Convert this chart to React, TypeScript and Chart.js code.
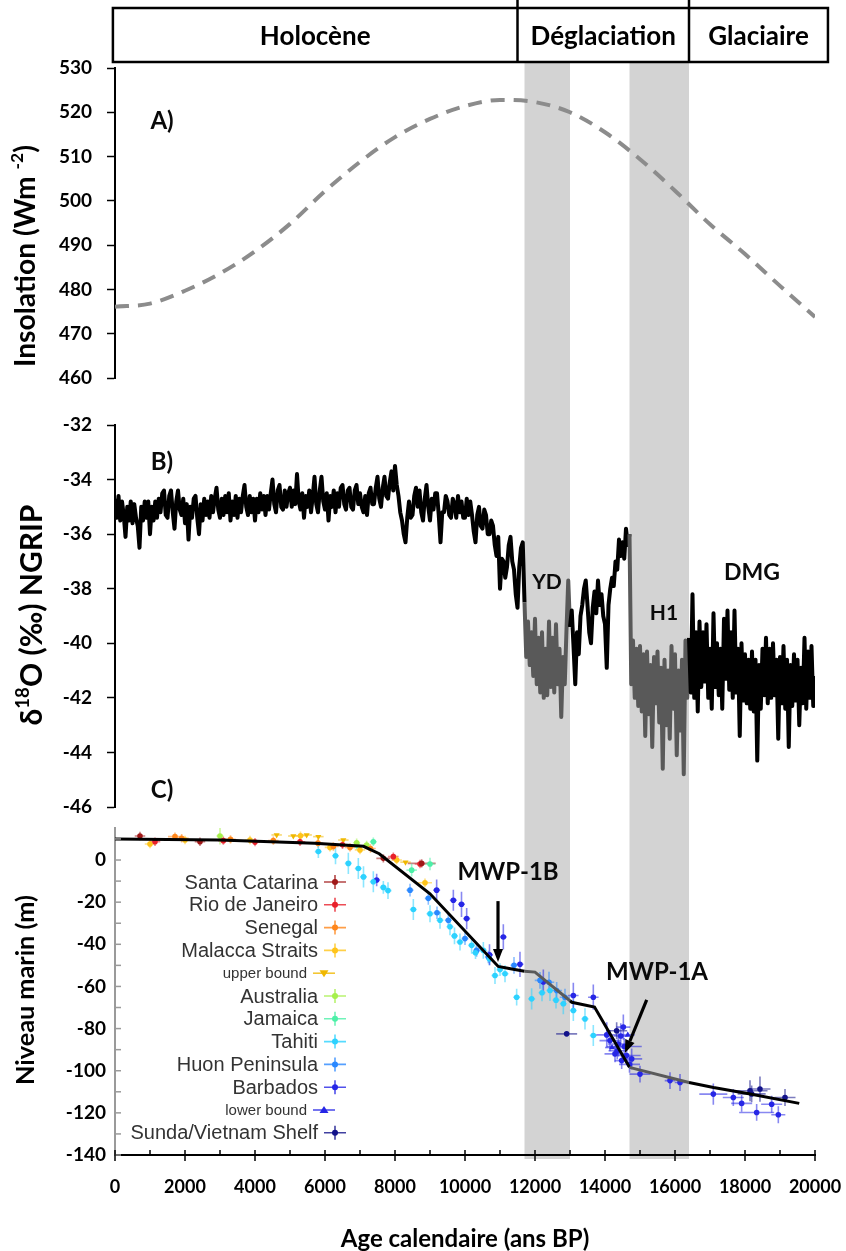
import { useEffect, useRef } from "react";
import { Chart, registerables } from "chart.js";
Chart.register(...registerables);

const FONT = "Lato, 'Open Sans', 'DejaVu Sans', sans-serif";
const LEGEND_FONT = "'Liberation Sans', Arial, sans-serif";

// ---------------- DATA ----------------
const ageMin = 0;
const ageMax = 20000;
const coldBands: [number, number][] = [[11700, 13000], [14700, 16400]];
const periodEdges = [-60, 11500, 16400, 20370];
const periodNames = ["Holocène", "Déglaciation", "Glaciaire"];

// A) insolation
const insolationAge = [0, 1000, 2000, 3000, 4000, 5000, 6000, 7000, 8000, 9000, 10000, 11000, 12000, 13000, 14000, 15000, 16000, 17000, 18000, 19000, 20000];
const insolationWm2 = [476.1, 476.8, 479.7, 483.6, 488.6, 494.8, 502.2, 508.8, 514.4, 518.5, 521.4, 522.8, 522.3, 520.0, 515.5, 509.4, 502.3, 494.7, 488.0, 480.8, 473.8];
const insolationTicks = { min: 460, max: 530, step: 10 };

// B) NGRIP d18O, one value every 50 years from each segment's start age
const ngripStep = 50;
const ngripHoloceneStart = 0;
const ngripHoloceneD18O = [
  -34.7, -35.4, -34.6, -35.5, -34.8, -35.3, -36.1, -35.0, -35.5, -34.8, -35.6, -34.9, -35.4, -35.7, -36.5, -35.0, -35.5, -34.8, -35.4, -34.8,
  -36.0, -35.0, -35.5, -34.8, -35.4, -34.7, -35.2, -34.5, -34.4, -35.3, -35.4, -34.6, -34.4, -35.2, -35.8, -34.8, -34.4, -35.1, -35.3, -34.7,
  -35.6, -34.9, -36.2, -35.0, -35.4, -34.7, -34.6, -35.4, -36.0, -34.9, -35.5, -34.7, -35.3, -34.8, -35.4, -34.6, -35.2, -34.7, -34.3, -35.1,
  -35.4, -34.7, -35.3, -34.6, -35.2, -34.5, -35.5, -34.8, -35.3, -34.6, -35.4, -34.7, -35.2, -34.6, -34.2, -35.0, -35.3, -34.6, -35.2, -34.7,
  -35.5, -34.7, -35.2, -34.5, -35.1, -34.6, -35.3, -34.6, -35.1, -34.5, -34.0, -34.9, -35.2, -34.4, -34.2, -35.0, -35.1, -34.4, -35.0, -34.5,
  -34.3, -35.0, -34.4, -34.9, -33.8, -34.8, -35.1, -34.5, -35.4, -34.6, -35.0, -34.4, -35.2, -34.6, -33.9, -34.9, -35.2, -34.4, -33.9, -34.8,
  -35.1, -34.5, -35.5, -34.6, -35.0, -34.4, -35.2, -34.5, -35.0, -34.3, -34.2, -34.9, -35.1, -34.4, -34.3, -35.0, -35.1, -34.4, -34.2, -34.9,
  -34.5, -35.0, -35.2, -34.6, -35.3, -34.5, -34.3, -34.9, -34.9, -34.3, -33.9, -34.7, -35.0, -34.3, -33.9, -34.6, -34.7, -34.1, -33.7, -34.4,
  -33.5, -34.2, -34.6, -35.2, -35.5, -36.0, -36.3, -35.4, -34.8, -35.4, -35.3, -34.6, -34.3, -35.0, -34.4, -35.2, -35.5, -34.7, -34.2, -35.0,
  -35.5, -34.7, -35.1, -34.5, -34.5, -35.3, -36.3, -35.2, -35.2, -34.6, -34.8, -35.3, -35.4, -34.7, -34.9, -35.4, -34.6, -35.2, -34.8, -35.4,
  -35.4, -34.7, -35.3, -34.8, -35.3, -35.9, -36.3, -35.3, -35.0, -35.7, -35.8, -35.1, -35.3, -36.0, -36.0, -35.5, -35.7, -36.4, -36.8, -36.1,
  -38.0, -36.9, -37.0, -37.6, -37.2, -36.4, -36.1, -37.0, -37.3, -38.2, -38.7, -37.2, -36.5, -36.3,
];
const ngripDeglaciationStart = 11700;
const ngripDeglaciationD18O = [
  -38.5, -40.5, -39.2, -40.8, -39.6, -41.2,
  -39.1, -41.5, -39.8, -41.8, -39.6, -42.0, -40.2, -41.9, -39.2, -41.6,
  -39.8, -41.8, -39.3, -41.5, -40.2, -42.7, -40.5, -41.5, -39.5, -37.7,
  -39.4, -38.8, -40.1, -41.5, -39.6, -40.4, -39.0, -38.6, -38.0, -37.7,
  -38.6, -39.6, -40.0, -38.7, -38.1, -38.9, -37.7, -38.6, -38.2, -39.0,
  -39.3, -40.9, -38.6, -38.0, -37.6, -37.9, -37.0, -37.3, -36.2, -36.8,
  -36.3, -36.9, -35.8, -36.4, -36.0,
];
const ngripH1Start = 14750;
const ngripH1D18O = [
  -41.5, -39.9, -42.0, -40.2, -42.3,
  -40.1, -42.5, -40.4, -43.4, -40.3, -42.6, -40.8, -43.8, -40.5, -42.2,
  -40.3, -42.9, -40.9, -44.6, -40.6, -43.0, -41.0, -43.5, -40.1, -42.4,
  -40.4, -44.1, -41.0, -43.2, -40.6, -44.8, -39.9, -42.0,
];
const ngripGlacialStart = 16400;
const ngripGlacialD18O = [
  -39.8, -41.8, -38.2, -42.0, -39.6, -42.5, -39.2, -41.6, -39.6, -41.4, -39.3, -42.0,
  -40.2, -42.4, -38.9, -41.6, -40.0, -41.9, -40.2, -42.4, -39.1, -41.3,
  -38.8, -41.7, -39.6, -42.0, -38.8, -41.8, -40.2, -43.4, -40.0, -42.1,
  -40.4, -42.2, -40.6, -42.4, -40.3, -42.5, -40.6, -44.3, -40.8, -42.4,
  -40.2, -41.9, -39.8, -42.2, -40.2, -42.0, -40.0, -41.9, -40.6, -43.5,
  -40.5, -42.2, -40.1, -42.4, -40.6, -43.8, -40.8, -42.3, -40.4, -42.1,
  -40.6, -43.0, -40.9, -42.2, -39.8, -42.4, -40.3, -42.0, -40.1, -42.3,
  -41.2, -42.5,
];
const ngripTicks = { min: -46, max: -32, step: 2 };

// C) sea level: [age, level, ageErr, levelErr]
type Obs = [number, number, number, number];
const seaSantaCatarina: Obs[] = [[714, 11.4, 150, 2], [2428, 8.7, 150, 2], [7667, 0.8, 200, 2], [8762, -1.6, 400, 2]];
const seaRioDeJaneiro: Obs[] = [[1143, 8.7, 150, 2], [3095, 9.2, 150, 2], [4000, 8.5, 150, 2], [5286, 8.7, 150, 2], [6500, 7.2, 150, 2], [7952, 1.6, 150, 2], [8714, -1.9, 150, 2]];
const seaSenegal: Obs[] = [[1714, 11.1, 200, 2], [1905, 10.3, 200, 2], [3300, 9.8, 150, 2], [4524, 9.2, 150, 2], [5800, 8.0, 150, 2], [6238, 6.4, 150, 2], [6714, 6.0, 150, 2], [7300, 5.5, 150, 2]];
const seaMalacca: Obs[] = [[1000, 7.6, 150, 2], [2000, 9.5, 150, 2], [3857, 9.5, 150, 2], [5300, 11.5, 150, 2], [6143, 6.0, 150, 2], [7000, 4.8, 150, 2], [8048, 0, 150, 2], [8857, -10.8, 200, 2]];
const seaUpperBound: Obs[] = [[4619, 11.9, 150, 0], [5095, 11.4, 150, 0], [5476, 11.9, 150, 0], [5810, 11.1, 150, 0], [6524, 9.5, 150, 0], [8300, -1, 150, 0]];
const seaAustralia: Obs[] = [[3000, 11.4, 100, 4], [6905, 8.2, 100, 2], [7190, 7.1, 100, 2]];
const seaJamaica: Obs[] = [[6905, 7.1, 100, 2], [7381, 8.7, 100, 2], [8476, -4.8, 150, 3], [9000, -1.9, 150, 3]];
const seaTahiti: Obs[] = [
  [5810, 4.0, 100, 3], [6300, 2.0, 100, 4], [6667, -1.6, 100, 5], [6952, -4.0, 100, 5], [7100, -8, 100, 5], [7381, -10.3, 100, 5],
  [7667, -13, 100, 3], [7800, -14.5, 100, 4], [8524, -23.5, 100, 5], [9000, -25.5, 100, 4], [9286, -28.6, 100, 4], [9571, -31.7, 100, 4],
  [9700, -36, 100, 4], [9857, -38.9, 100, 4], [10190, -40.5, 100, 4], [10300, -44, 100, 3], [10524, -42.9, 100, 4], [10700, -47, 100, 3],
  [10857, -54.8, 100, 4], [11000, -52, 100, 3], [11143, -54, 100, 4], [11476, -65.1, 100, 4], [11904, -65.9, 100, 5], [12200, -63, 100, 4],
  [12428, -61.9, 100, 5], [12600, -66.5, 100, 4], [12809, -68.2, 100, 5], [13095, -71.4, 100, 5], [13428, -75.4, 100, 5], [13666, -83.3, 100, 5],
];
const seaHuon: Obs[] = [
  [8429, -14.3, 100, 3], [8952, -18.2, 100, 3], [9200, -25, 100, 3], [9524, -28.6, 100, 3], [10000, -37.3, 100, 3], [10333, -42.9, 100, 3],
  [10667, -46, 100, 3], [11400, -50, 100, 4], [12143, -57.1, 150, 4], [12400, -58, 150, 5], [12619, -61.9, 150, 4], [12857, -65.1, 150, 4],
];
const seaBarbados: Obs[] = [
  [7476, -9.5, 100, 3], [9190, -14.3, 100, 5], [9667, -19.1, 100, 5], [9900, -21, 100, 6], [10048, -27.8, 100, 5], [10700, -45, 100, 5],
  [11095, -36.5, 100, 6], [11571, -49.5, 100, 6], [12238, -57.9, 150, 6], [13095, -64.3, 150, 6], [13666, -65.1, 150, 6], [14050, -83, 300, 6],
  [14143, -85.7, 300, 5], [14381, -87.3, 300, 6], [14350, -90.5, 250, 4], [14450, -83.5, 200, 6], [14524, -79.3, 200, 6], [14550, -88.5, 500, 4],
  [14286, -92, 300, 4], [14619, -92.8, 400, 4], [14476, -95.2, 200, 4], [14700, -97, 300, 4], [14762, -94.4, 300, 5], [15000, -101.6, 300, 4],
  [15857, -104.7, 150, 4], [16143, -105.6, 150, 4], [17095, -111.1, 400, 5], [17666, -112.7, 300, 4], [17904, -115.5, 300, 4], [18333, -119.8, 500, 4],
  [18762, -115.9, 300, 4], [18952, -120.9, 200, 4],
];
const seaLowerBound: Obs[] = [[14200, -89, 200, 0], [14650, -83, 200, 0]];
const seaSunda: Obs[] = [[12904, -82.5, 300, 1], [14333, -81.0, 300, 4], [18143, -109.5, 500, 5], [18428, -108.7, 300, 6], [19143, -112.7, 300, 4], [18190, -111, 400, 4]];

const seaFitAge = [0, 3000, 5700, 7100, 7550, 9000, 10950, 11300, 11700, 12000, 13000, 13050, 13700, 14700, 16400, 17100, 18150, 19550];
const seaFitLevel = [10, 9.5, 8, 6.5, 3, -16, -50.5, -51.6, -52.8, -53.2, -66.8, -67.5, -69.8, -98.4, -105.6, -108, -111, -115.5];
const seaTicks = { min: -140, max: 15.2, step: 10 };

const seaSeries = [
  { label: "Santa Catarina", color: "#a01818", marker: "cross", data: seaSantaCatarina },
  { label: "Rio de Janeiro", color: "#e8202a", marker: "cross", data: seaRioDeJaneiro },
  { label: "Senegal", color: "#ff861a", marker: "cross", data: seaSenegal },
  { label: "Malacca Straits", color: "#ffc41a", marker: "cross", data: seaMalacca },
  { label: "upper bound", color: "#f0b800", marker: "down", data: seaUpperBound },
  { label: "Australia", color: "#a6f04c", marker: "cross", data: seaAustralia },
  { label: "Jamaica", color: "#4cf0a8", marker: "cross", data: seaJamaica },
  { label: "Tahiti", color: "#2cd2ff", marker: "cross", data: seaTahiti },
  { label: "Huon Peninsula", color: "#2a88ff", marker: "cross", data: seaHuon },
  { label: "Barbados", color: "#2626e6", marker: "cross", data: seaBarbados },
  { label: "lower bound", color: "#2626e6", marker: "up", data: seaLowerBound },
  { label: "Sunda/Vietnam Shelf", color: "#12128a", marker: "cross", data: seaSunda },
];

// ---------------- helpers ----------------
const inBand = (x: number) => coldBands.some(([a, b]) => x >= a && x <= b);
const BAND_COLOR = "#d3d3d3";

function hexA(hex: string, a: number) {
  const n = parseInt(hex.slice(1), 16);
  return `rgba(${(n >> 16) & 255},${(n >> 8) & 255},${n & 255},${a})`;
}

const zeroPad = (s: any) => {
  s.paddingLeft = 0;
  s.paddingRight = 0;
  s.paddingTop = 0;
  s.paddingBottom = 0;
};

function bandPlugin(top: (c: any) => number, bottom: (c: any) => number) {
  return {
    id: "bands",
    beforeDraw(chart: any) {
      const { ctx } = chart;
      const xs = chart.scales.x;
      ctx.save();
      ctx.fillStyle = BAND_COLOR;
      coldBands.forEach(([a, b]) => {
        const x0 = xs.getPixelForValue(a);
        const x1 = xs.getPixelForValue(b);
        ctx.fillRect(x0, top(chart), x1 - x0, bottom(chart) - top(chart));
      });
      ctx.restore();
    },
  };
}

type Part = { t: string; sup?: boolean };
function titlePlugin(parts: Part[], cx: number, cy: number, len: number) {
  return {
    id: "ytitle",
    afterDraw(chart: any) {
      const ctx = chart.ctx;
      ctx.save();
      const measure = (size: number) =>
        parts.reduce((s, p) => {
          ctx.font = `bold ${p.sup ? size * 0.62 : size}px ${FONT}`;
          return s + ctx.measureText(p.t).width;
        }, 0);
      const size = Math.min(30, (100 * len) / measure(100));
      const total = measure(size);
      ctx.translate(cx, cy);
      ctx.rotate(-Math.PI / 2);
      ctx.fillStyle = "#000";
      ctx.textBaseline = "middle";
      ctx.textAlign = "left";
      let x = -total / 2;
      parts.forEach((p) => {
        ctx.font = `bold ${p.sup ? size * 0.62 : size}px ${FONT}`;
        ctx.fillText(p.t, x, p.sup ? -size * 0.3 : 0);
        x += ctx.measureText(p.t).width;
      });
      ctx.restore();
    },
  };
}

type Note = { text: string; age: number; value: number; size: number };
function notesPlugin(notes: Note[]) {
  return {
    id: "notes",
    afterDraw(chart: any) {
      const { ctx } = chart;
      const xs = chart.scales.x;
      const ys = chart.scales.y;
      ctx.save();
      ctx.fillStyle = "#0a0a0a";
      ctx.textAlign = "center";
      ctx.textBaseline = "middle";
      notes.forEach((n) => {
        ctx.font = `bold ${n.size}px ${FONT}`;
        ctx.fillText(n.text, xs.getPixelForValue(n.age), ys.getPixelForValue(n.value));
      });
      ctx.restore();
    },
  };
}

const headerPlugin = {
  id: "header",
  afterDraw(chart: any) {
    const { ctx } = chart;
    const xs = chart.scales.x;
    const top = 8;
    const bottom = 62;
    const xsPix = periodEdges.map((v) => xs.getPixelForValue(v));
    ctx.save();
    ctx.fillStyle = "#fff";
    ctx.fillRect(xsPix[0], top, xsPix[3] - xsPix[0], bottom - top);
    ctx.strokeStyle = "#000";
    ctx.lineWidth = 2.5;
    ctx.strokeRect(xsPix[0], top, xsPix[3] - xsPix[0], bottom - top);
    [xsPix[1], xsPix[2]].forEach((x) => {
      ctx.beginPath();
      ctx.moveTo(x, 0);
      ctx.lineTo(x, bottom);
      ctx.stroke();
    });
    ctx.fillStyle = "#000";
    ctx.font = `bold 26px ${FONT}`;
    ctx.textAlign = "center";
    ctx.textBaseline = "middle";
    periodNames.forEach((name, i) => {
      ctx.fillText(name, (xsPix[i] + xsPix[i + 1]) / 2, 37);
    });
    ctx.restore();
  },
};

const yTickFont = { family: FONT, size: 19, weight: "bold" as const, lineHeight: 1 };
const xTickFont = { family: FONT, size: 18, weight: "bold" as const, lineHeight: 1 };

function yAxis(t: { min: number; max: number; step: number }) {
  return {
    min: t.min,
    max: t.max,
    ticks: { stepSize: t.step, padding: 15, color: "#000", font: yTickFont },
    grid: { drawOnChartArea: false, tickLength: 8, tickColor: "#000", tickWidth: 1.5 },
    border: { color: "#000", width: 2 },
    afterFit: (s: any) => {
      s.width = 115;
      zeroPad(s);
    },
  };
}

const hiddenX = { type: "linear", min: ageMin, max: ageMax, display: false, afterFit: zeroPad };

const baseOptions = {
  animation: false as const,
  responsive: false,
  events: [] as any[],
  plugins: { legend: { display: false }, tooltip: { enabled: false } },
};

function makeInsolation(canvas: HTMLCanvasElement) {
  return new Chart(canvas, {
    type: "line",
    data: {
      datasets: [
        {
          data: insolationAge.map((a, i) => ({ x: a, y: insolationWm2[i] })),
          borderColor: "#8c8c8c",
          borderWidth: 4,
          borderDash: [14, 9],
          pointRadius: 0,
          cubicInterpolationMode: "monotone",
          fill: false,
        },
      ],
    },
    options: {
      ...baseOptions,
      layout: { padding: { left: 0, right: 31, top: 68, bottom: 22 } },
      scales: { x: hiddenX, y: yAxis(insolationTicks) },
    } as any,
    plugins: [
      bandPlugin(() => 62, (c) => c.height),
      headerPlugin,
      notesPlugin([{ text: "A)", age: 1343, value: 518.0, size: 24 }]),
      titlePlugin([{ t: "Insolation (Wm " }, { t: "-2", sup: true }, { t: ")" }], 26, 256, 222),
    ],
  });
}

function series(start: number, values: number[]) {
  return values.map((y, i) => ({ x: start + i * ngripStep, y }));
}

function makeNgrip(canvas: HTMLCanvasElement) {
  const pts = [
    ...series(ngripHoloceneStart, ngripHoloceneD18O),
    ...series(ngripDeglaciationStart, ngripDeglaciationD18O),
    ...series(ngripH1Start, ngripH1D18O),
    ...series(ngripGlacialStart, ngripGlacialD18O),
  ];
  return new Chart(canvas, {
    type: "line",
    data: {
      datasets: [
        {
          data: pts,
          borderColor: "#000",
          borderWidth: 4,
          borderJoinStyle: "round",
          pointRadius: 0,
          tension: 0,
          fill: false,
          segment: {
            borderColor: (ctx: any) => (inBand((ctx.p0.parsed.x + ctx.p1.parsed.x) / 2) ? "#595959" : "#000"),
          },
        },
      ],
    },
    options: {
      ...baseOptions,
      layout: { padding: { left: 0, right: 31, top: 25, bottom: 11 } },
      scales: { x: hiddenX, y: yAxis(ngripTicks) },
    } as any,
    plugins: [
      bandPlugin(() => 0, (c) => c.height),
      notesPlugin([
        { text: "B)", age: 1343, value: -33.36, size: 24 },
        { text: "C)", age: 1343, value: -45.37, size: 24 },
        { text: "YD", age: 12343, value: -37.75, size: 21 },
        { text: "H1", age: 15686, value: -38.9, size: 21 },
        { text: "DMG", age: 18200, value: -37.4, size: 23 },
      ]),
      titlePlugin([{ t: "δ" }, { t: "18", sup: true }, { t: "O (‰) NGRIP" }], 32, 215, 264),
    ],
  });
}

const errorBarPlugin = {
  id: "errorBars",
  beforeDatasetsDraw(chart: any) {
    const { ctx, chartArea } = chart;
    const xs = chart.scales.x;
    const ys = chart.scales.y;
    ctx.save();
    ctx.beginPath();
    ctx.rect(chartArea.left, chartArea.top, chartArea.right - chartArea.left, chartArea.bottom - chartArea.top);
    ctx.clip();
    ctx.lineWidth = 1.6;
    chart.data.datasets.forEach((ds: any) => {
      if (!ds.errorBars) return;
      ctx.strokeStyle = hexA(ds.seriesColor, 0.55);
      ds.data.forEach((p: any) => {
        const x = xs.getPixelForValue(p.x);
        const y = ys.getPixelForValue(p.y);
        ctx.beginPath();
        if (p.xErr) {
          ctx.moveTo(xs.getPixelForValue(p.x - p.xErr), y);
          ctx.lineTo(xs.getPixelForValue(p.x + p.xErr), y);
        }
        if (p.yErr) {
          ctx.moveTo(x, ys.getPixelForValue(p.y - p.yErr));
          ctx.lineTo(x, ys.getPixelForValue(p.y + p.yErr));
        }
        ctx.stroke();
      });
    });
    ctx.restore();
  },
};

const seaLegendPlugin = {
  id: "seaLegend",
  afterDraw(chart: any) {
    const { ctx, chartArea } = chart;
    ctx.save();
    ctx.textAlign = "right";
    ctx.textBaseline = "middle";
    seaSeries.forEach((s, i) => {
      const small = s.marker !== "cross";
      const y = chartArea.top + 54 + i * 22.8;
      const mx = chartArea.left + (small ? 209 : 220);
      ctx.fillStyle = "#333";
      ctx.font = `${small ? 15 : 20}px ${LEGEND_FONT}`;
      ctx.fillText(s.label, mx - 17, y + 1);
      ctx.strokeStyle = hexA(s.color, 0.8);
      ctx.lineWidth = 1.6;
      ctx.beginPath();
      ctx.moveTo(mx - 11, y);
      ctx.lineTo(mx + 11, y);
      if (!small) {
        ctx.moveTo(mx, y - 7);
        ctx.lineTo(mx, y + 7);
      }
      ctx.stroke();
      ctx.fillStyle = s.color;
      ctx.beginPath();
      if (s.marker === "cross") {
        ctx.arc(mx, y, 3, 0, Math.PI * 2);
      } else if (s.marker === "down") {
        ctx.moveTo(mx - 4.5, y - 3);
        ctx.lineTo(mx + 4.5, y - 3);
        ctx.lineTo(mx, y + 4);
      } else {
        ctx.moveTo(mx - 4.5, y + 3);
        ctx.lineTo(mx + 4.5, y + 3);
        ctx.lineTo(mx, y - 4);
      }
      ctx.closePath();
      ctx.fill();
    });
    ctx.restore();
  },
};

const seaTicksPlugin = {
  id: "seaTicks",
  afterDraw(chart: any) {
    const { ctx, chartArea } = chart;
    const xs = chart.scales.x;
    const ys = chart.scales.y;
    ctx.save();
    ctx.strokeStyle = "#9a9a9a";
    ctx.lineWidth = 1.5;
    for (let v = seaTicks.min; v <= 10; v += seaTicks.step) {
      const y = ys.getPixelForValue(v);
      ctx.beginPath();
      ctx.moveTo(chartArea.left, y);
      ctx.lineTo(chartArea.left + 6, y);
      ctx.stroke();
    }
    ctx.strokeStyle = "#000";
    for (let v = ageMin; v <= ageMax; v += 1000) {
      const x = xs.getPixelForValue(v);
      const major = v % 2000 === 0;
      ctx.beginPath();
      ctx.moveTo(x, chartArea.bottom - 5);
      ctx.lineTo(x, chartArea.bottom + (major ? 6 : 0));
      ctx.stroke();
    }
    ctx.restore();
  },
};

const seaArrows: { from: [number, number]; to: [number, number] }[] = [
  { from: [10943, -19.5], to: [10943, -48.4] },
  { from: [15191, -66.4], to: [14571, -91.6] },
];
const arrowPlugin = {
  id: "arrows",
  afterDraw(chart: any) {
    const { ctx } = chart;
    const xs = chart.scales.x;
    const ys = chart.scales.y;
    ctx.save();
    ctx.strokeStyle = "#000";
    ctx.fillStyle = "#000";
    ctx.lineWidth = 3.2;
    seaArrows.forEach((a) => {
      const x0 = xs.getPixelForValue(a.from[0]);
      const y0 = ys.getPixelForValue(a.from[1]);
      const x1 = xs.getPixelForValue(a.to[0]);
      const y1 = ys.getPixelForValue(a.to[1]);
      const ang = Math.atan2(y1 - y0, x1 - x0);
      const hl = 13;
      const hw = 5;
      const bx = x1 - Math.cos(ang) * hl;
      const by = y1 - Math.sin(ang) * hl;
      ctx.beginPath();
      ctx.moveTo(x0, y0);
      ctx.lineTo(bx, by);
      ctx.stroke();
      ctx.beginPath();
      ctx.moveTo(x1, y1);
      ctx.lineTo(bx + Math.sin(ang) * hw, by - Math.cos(ang) * hw);
      ctx.lineTo(bx - Math.sin(ang) * hw, by + Math.cos(ang) * hw);
      ctx.closePath();
      ctx.fill();
    });
    ctx.restore();
  },
};

function makeSeaLevel(canvas: HTMLCanvasElement) {
  const scatterSets = seaSeries.map((s) => ({
    label: s.label,
    data: s.data.map(([x, y, xErr, yErr]) => ({ x, y, xErr, yErr })),
    showLine: false,
    pointRadius: s.marker === "cross" ? 2.8 : 3.5,
    pointStyle: s.marker === "cross" ? "circle" : "triangle",
    rotation: s.marker === "down" ? 180 : 0,
    pointBackgroundColor: s.color,
    pointBorderWidth: 0,
    errorBars: true,
    seriesColor: s.color,
    order: 2,
  }));
  return new Chart(canvas, {
    type: "line",
    data: {
      datasets: [
        {
          label: "fit",
          data: seaFitAge.map((a, i) => ({ x: a, y: seaFitLevel[i] })),
          borderColor: "#000",
          borderWidth: 3,
          pointRadius: 0,
          tension: 0,
          fill: false,
          order: 0,
          segment: {
            borderColor: (ctx: any) => (inBand((ctx.p0.parsed.x + ctx.p1.parsed.x) / 2) ? "#5a5a5a" : "#000"),
          },
        },
        ...scatterSets,
      ] as any,
    },
    options: {
      ...baseOptions,
      layout: { padding: { left: 0, right: 31, top: 10, bottom: 0 } },
      scales: {
        x: {
          type: "linear",
          min: ageMin,
          max: ageMax,
          ticks: {
            stepSize: 1000,
            autoSkip: false,
            maxRotation: 0,
            padding: 23,
            color: "#000",
            font: xTickFont,
            callback: (v: any) => (v % 2000 === 0 ? String(v) : ""),
          },
          grid: { drawOnChartArea: false, drawTicks: false },
          border: { color: "#000", width: 2 },
          title: {
            display: true,
            text: "Age calendaire (ans BP)",
            color: "#000",
            font: { family: FONT, size: 24, weight: "bold", lineHeight: 1 },
            padding: 0,
          },
          afterFit: (s: any) => {
            s.height = 96;
            zeroPad(s);
          },
        },
        y: {
          min: seaTicks.min,
          max: seaTicks.max,
          ticks: {
            stepSize: seaTicks.step,
            includeBounds: false,
            padding: 9,
            color: "#000",
            font: yTickFont,
            callback: (v: any) => (v % 20 === 0 ? String(v) : ""),
          },
          grid: { drawOnChartArea: false, drawTicks: false },
          border: { color: "#9a9a9a", width: 2 },
          afterFit: (s: any) => {
            s.width = 115;
            zeroPad(s);
          },
        },
      },
    } as any,
    plugins: [
      bandPlugin(() => 0, (c) => c.chartArea.bottom + 4),
      errorBarPlugin,
      seaTicksPlugin,
      seaLegendPlugin,
      arrowPlugin,
      notesPlugin([
        { text: "MWP-1B", age: 11229, value: -5.7, size: 24 },
        { text: "MWP-1A", age: 15486, value: -53.1, size: 24 },
      ]),
      titlePlugin([{ t: "Niveau marin (m)" }], 26, 172, 190),
    ],
  });
}

export default function App() {
  const aRef = useRef<HTMLCanvasElement>(null);
  const bRef = useRef<HTMLCanvasElement>(null);
  const cRef = useRef<HTMLCanvasElement>(null);
  useEffect(() => {
    const charts = [makeInsolation(aRef.current!), makeNgrip(bRef.current!), makeSeaLevel(cRef.current!)];
    return () => charts.forEach((c) => c.destroy());
  }, []);
  return (
    <div style={{ position: "absolute", left: 0, top: 0, width: 846, height: 1251, background: "#fff" }}>
      <canvas ref={aRef} width={846} height={400} style={{ position: "absolute", left: 0, top: 0 }} />
      <canvas ref={bRef} width={846} height={418} style={{ position: "absolute", left: 0, top: 400 }} />
      <canvas ref={cRef} width={846} height={433} style={{ position: "absolute", left: 0, top: 818 }} />
    </div>
  );
}
